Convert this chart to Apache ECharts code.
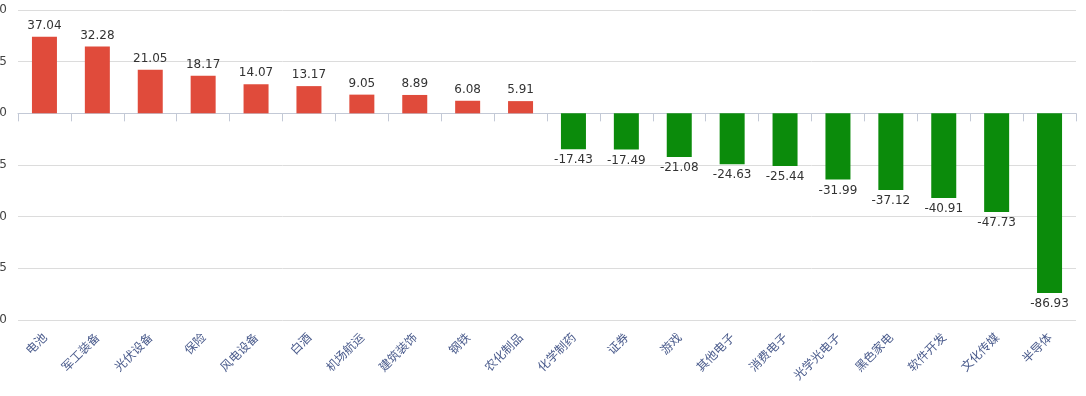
<!DOCTYPE html>
<html>
<head>
<meta charset="utf-8">
<script src="https://cdn.jsdelivr.net/npm/echarts@6/dist/echarts.min.js"></script>
<style>
html,body{margin:0;padding:0;background:#fff;}
#c{width:1086px;height:396px;}
</style>
</head>
<body>
<div id="c"></div>
<script>
const categories = ['电池','军工装备','光伏设备','保险','风电设备','白酒','机场航运','建筑装饰','钢铁','农化制品','化学制药','证券','游戏','其他电子','消费电子','光学光电子','黑色家电','软件开发','文化传媒','半导体'];
const values = [37.04,32.28,21.05,18.17,14.07,13.17,9.05,8.89,6.08,5.91,-17.43,-17.49,-21.08,-24.63,-25.44,-31.99,-37.12,-40.91,-47.73,-86.93];
const yMin = -100, yMax = 50, yStep = 25;
const upColor = '#e04b3b';
const downColor = '#0b8b0b';

const chart = echarts.init(document.getElementById('c'), null, {renderer:'canvas'});
chart.setOption({
  animation: false,
  backgroundColor: '#fff',
  grid: {left: 18, right: 10, top: 10, bottom: 76, containLabel: false, outerBoundsMode: 'none'},
  xAxis: {
    type: 'category',
    data: categories,
    boundaryGap: true,
    axisLine: {lineStyle: {color: '#c3c9d6', width: 1}},
    axisTick: {show: true, length: 8, alignWithLabel: false, lineStyle: {color: '#c3c9d6'}},
    axisLabel: {rotate: 45, interval: 0, margin: 15, color: '#4a5b8c', fontSize: 12, fontFamily: '"Noto Sans CJK SC", sans-serif'}
  },
  yAxis: {
    type: 'value',
    min: yMin, max: yMax, interval: yStep,
    axisLine: {show: false},
    axisTick: {show: false},
    splitLine: {lineStyle: {color: '#dcdcdc', width: 1}},
    axisLabel: {color: '#444', fontSize: 12, margin: 11, fontFamily: '"DejaVu Sans", sans-serif'}
  },
  series: [{
    type: 'bar',
    data: values.map(v => ({value: v, itemStyle: {color: v >= 0 ? upColor : downColor},
      label: {position: v >= 0 ? 'top' : 'bottom'}})),
    barWidth: 25,
    label: {show: true, color: '#333', fontSize: 12, distance: 5, fontFamily: '"DejaVu Sans", sans-serif',
      formatter: p => p.value.toFixed(2)}
  }]
});
</script>
</body>
</html>
